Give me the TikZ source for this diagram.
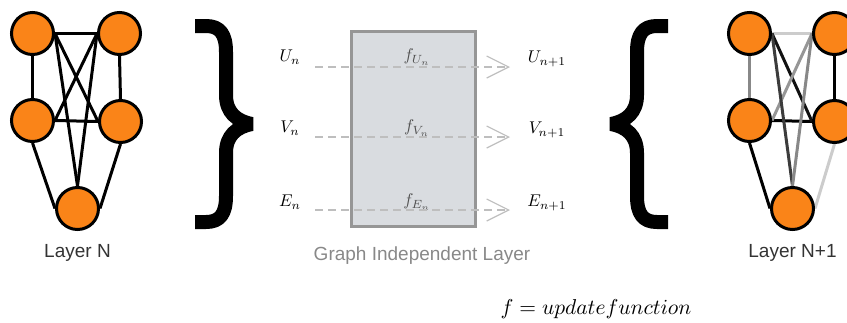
\documentclass[tikz,border=0pt]{standalone}
\usepackage{graphicx}
\usepackage{fontspec}
\newfontfamily\lab{Liberation Sans}
\usetikzlibrary{arrows.meta,backgrounds}
\definecolor{orangeN}{RGB}{250,132,24}
\definecolor{boxfill}{RGB}{217,220,224}
\definecolor{boxline}{RGB}{150,150,150}
\definecolor{flowgray}{RGB}{190,190,190}
\definecolor{txtdark}{RGB}{51,51,51}
\definecolor{ftxt}{RGB}{80,80,80}
\newcommand{\mbig}[1]{\scalebox{1.7}{#1}}
\begin{document}
\begin{tikzpicture}[x=1pt,y=-1pt,
  gnode/.style={circle, draw=black, line width=3pt, fill=orangeN, minimum size=42pt, inner sep=0pt},
  edge/.style={line width=3pt},
  bracepath/.style={line width=14pt, line join=bevel, line cap=butt},
  flow/.style={draw=flowgray, line width=1.2pt, dash pattern=on 8pt off 5pt,
    -{Straight Barb[length=22pt,width=22pt,line width=1.2pt]}},
  lbl/.style={font=\lab\fontsize{19}{22}\selectfont, text=txtdark},
  mlbl/.style={inner sep=0pt},
  flbl/.style={inner sep=0pt, text=ftxt}]
\useasboundingbox (0,0) rectangle (847,322);

% ---- Layer N ----
\node[gnode] (a1) at (32.5,33.5) {};
\node[gnode] (a2) at (119.5,33.5) {};
\node[gnode] (a3) at (32.5,120.5) {};
\node[gnode] (a4) at (120.5,121.5) {};
\node[gnode] (a5) at (77.5,208.5) {};
\begin{scope}[on background layer]
\draw[edge] (a1.east) -- (a2.west);
\draw[edge] (a1.south) -- (a3.north);
\draw[edge] (a2.south) -- (a4.north);
\draw[edge] (a3.east) -- (a4.west);
\draw[edge] (a1.east) -- (a4.west);
\draw[edge] (a2.west) -- (a3.east);
\draw[edge] (a1.east) -- (a5.north);
\draw[edge] (a2.west) -- (a5.north);
\draw[edge] (a3.south) -- (a5.west);
\draw[edge] (a4.south) -- (a5.east);
\end{scope}
\node[lbl] (ln) at (77.5,253) {Layer N};

% ---- Layer N+1 ----
\node[gnode] (b1) at (749.5,33.5) {};
\node[gnode] (b2) at (834.5,33.5) {};
\node[gnode] (b3) at (749.5,120.5) {};
\node[gnode] (b4) at (834.5,121.5) {};
\node[gnode] (b5) at (792.5,208.5) {};
\begin{scope}[on background layer]
\draw[edge, draw={rgb,255:red,204;green,204;blue,204}] (b1.east) -- (b2.west);
\draw[edge, draw={rgb,255:red,136;green,136;blue,136}] (b1.south) -- (b3.north);
\draw[edge] (b2.south) -- (b4.north);
\draw[edge] (b3.east) -- (b4.west);
\draw[edge, draw={rgb,255:red,17;green,17;blue,17}] (b1.east) -- (b4.west);
\draw[edge, draw={rgb,255:red,150;green,150;blue,150}] (b2.west) -- (b3.east);
\draw[edge, draw={rgb,255:red,60;green,60;blue,60}] (b1.east) -- (b5.north);
\draw[edge, draw={rgb,255:red,136;green,136;blue,136}] (b2.west) -- (b5.north);
\draw[edge] (b3.south) -- (b5.west);
\draw[edge, draw={rgb,255:red,204;green,204;blue,204}] (b4.south) -- (b5.east);
\end{scope}
\node[lbl] (ln1) at (792.5,253) {Layer N+1};

% ---- braces ----
\draw[bracepath] (195,26) -- (206,26) .. controls (220,26) and (226,34) .. (226,52)
  -- (226,95) .. controls (226,112) and (236,121) .. (252,124)
  .. controls (236,127) and (226,136) .. (226,153) -- (226,196)
  .. controls (226,214) and (220,222) .. (206,222) -- (195,222);
\draw[bracepath] (668,26) -- (657,26) .. controls (643,26) and (637,34) .. (637,52)
  -- (637,95) .. controls (637,112) and (627,121) .. (611,124)
  .. controls (627,127) and (637,136) .. (637,153) -- (637,196)
  .. controls (637,214) and (643,222) .. (657,222) -- (668,222);

% ---- graph independent layer ----
\node[draw=boxline, fill=boxfill, line width=3pt, minimum width=124pt, minimum height=195pt, inner sep=0pt] (gil) at (413.5,129) {};
\node[lbl, text={rgb,255:red,136;green,136;blue,136}] (gl) at (422,256) {Graph Independent Layer};

\node[mlbl] (un) at (290,57) {\mbig{$U_n$}};
\node[mlbl] (vn) at (290,128) {\mbig{$V_n$}};
\node[mlbl] (en) at (290,202) {\mbig{$E_n$}};
\node[flbl] (fu) at (417,57) {\mbig{$f_{U_n}$}};
\node[flbl] (fv) at (417,128) {\mbig{$f_{V_n}$}};
\node[flbl] (fe) at (417,202) {\mbig{$f_{E_n}$}};
\node[mlbl] (un1) at (547,59) {\mbig{$U_{n+1}$}};
\node[mlbl] (vn1) at (547,130) {\mbig{$V_{n+1}$}};
\node[mlbl] (en1) at (547,203) {\mbig{$E_{n+1}$}};

\coordinate (u0) at (315,67);
\coordinate (u1) at (510,67);
\coordinate (v0) at (315,137);
\coordinate (v1) at (510,137);
\coordinate (e0) at (315,210);
\coordinate (e1) at (510,210);
\draw[flow] (u0) -- (u1);
\draw[flow] (v0) -- (v1);
\draw[flow] (e0) -- (e1);

\node[inner sep=0pt] (upd) at (596,309) {\scalebox{2.15}{$f = update function$}};
\end{tikzpicture}
\end{document}
